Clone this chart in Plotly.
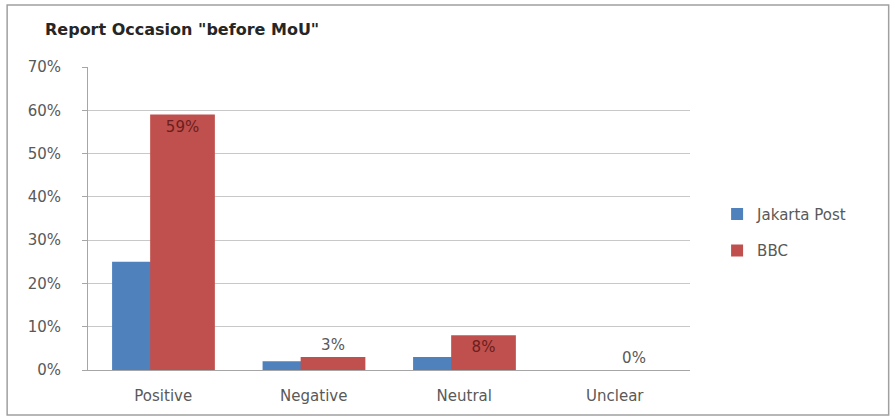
import plotly.graph_objects as go

# Share of reports by tone, before the MoU
categories = ["Positive", "Negative", "Neutral", "Unclear"]
jakarta_post = [0.25, 0.02, 0.03, 0.0]
bbc = [0.59, 0.03, 0.08, 0.0]
y_ticks = [0, 0.1, 0.2, 0.3, 0.4, 0.5, 0.6, 0.7]

BLUE = "#4F81BD"
RED = "#C0504D"
GRID = "#C8C8C8"
TEXT = "#595959"
FONT = "DejaVu Sans"

fig = go.Figure()

fig.add_trace(go.Bar(
    x=categories, y=jakarta_post, name="Jakarta Post",
    marker=dict(color=BLUE, line=dict(width=0)),
    offset=-0.34, width=0.43, legendgroup="a",
))

fig.add_trace(go.Bar(
    x=categories, y=bbc, name="BBC",
    marker=dict(color=RED, line=dict(width=0)),
    offset=-0.087, width=0.43, legendgroup="b",
    texttemplate="%{y:.0%}",
    textposition=["inside" if v >= 0.05 else "outside" for v in bbc],
    insidetextanchor="end",
    insidetextfont=dict(family=FONT, size=15, color="#6B1E1C"),
    outsidetextfont=dict(family=FONT, size=15, color=TEXT),
    textangle=0, cliponaxis=False, constraintext="none",
))

fig.update_layout(
    width=894, height=417,
    margin=dict(l=88, r=204, t=67, b=47),
    paper_bgcolor="white", plot_bgcolor="white",
    barmode="overlay",
    font=dict(family=FONT, size=15, color=TEXT),
    title=dict(
        text="<b>Report Occasion \"before MoU\"</b>",
        font=dict(family=FONT, size=16, color="#262626"),
        x=45 / 894, xanchor="left", y=1 - 29 / 417, yanchor="middle",
    ),
    legend=dict(
        x=1.045, y=0.455, xanchor="left", yanchor="middle",
        font=dict(family=FONT, size=15, color=TEXT),
        traceorder="grouped", tracegroupgap=14,
        bgcolor="rgba(0,0,0,0)",
    ),
    showlegend=True,
)

fig.update_xaxes(
    range=[-0.5, 3.5],
    showline=True, linecolor="#A6A6A6", linewidth=1,
    showgrid=False, ticks="", ticklabelstandoff=12,
    tickfont=dict(family=FONT, size=15, color=TEXT),
)

fig.update_yaxes(
    range=[0, 0.7], tickvals=y_ticks, tickformat=".0%",
    showgrid=True, gridcolor=GRID, gridwidth=1,
    showline=True, linecolor="#A6A6A6", linewidth=1,
    ticks="outside", ticklen=5, tickcolor="#A6A6A6",
    ticklabelstandoff=18, zeroline=False,
    tickfont=dict(family=FONT, size=15, color=TEXT),
)

# Chart frame around the whole figure
fig.add_shape(
    type="rect", xref="paper", yref="paper",
    x0=(7 - 88) / 603, x1=(890 - 88) / 603,
    y0=-(415 - 370) / 303, y1=1 + (67 - 5) / 303,
    line=dict(color="#A0A0A0", width=1.5), fillcolor="rgba(0,0,0,0)",
    layer="below",
)

fig.write_html("out.html")
